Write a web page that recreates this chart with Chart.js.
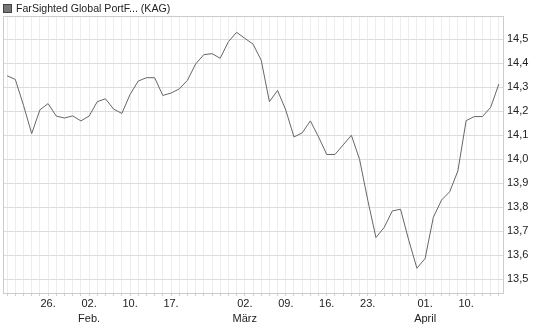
<!DOCTYPE html>
<html>
<head>
<meta charset="utf-8">
<script src="https://cdn.jsdelivr.net/npm/chart.js@4"></script>
<style>
  html, body { margin: 0; padding: 0; background: #fff; }
  #wrap { position: relative; width: 545px; height: 327px; }
  #legend {
    position: absolute; left: 3px; top: 2px;
    font: 10.6px "Liberation Sans", Arial, sans-serif; color: #222;
    display: flex; align-items: center; white-space: nowrap;
  }
  #legend .box {
    width: 7px; height: 7px; background: #777; border: 1px solid #444;
    margin-right: 4px;
  }
</style>
</head>
<body>
<div id="wrap">
  <canvas id="myChart" width="545" height="327"></canvas>
  <div id="legend"><span class="box"></span><span>FarSighted Global PortF... (KAG)</span></div>
</div>
<script>
// price series (one value per trading day)
const prices = [
  14.348, 14.333, 14.225, 14.107, 14.206, 14.232, 14.18, 14.172, 14.181, 14.16,
  14.18, 14.24, 14.252, 14.209, 14.191, 14.27, 14.326, 14.34, 14.34, 14.266,
  14.276, 14.293, 14.329, 14.397, 14.436, 14.44, 14.421, 14.49, 14.529, 14.504,
  14.48, 14.413, 14.24, 14.287, 14.205, 14.093, 14.11, 14.16, 14.093, 14.02,
  14.02, 14.06, 14.1, 14.0, 13.83, 13.674, 13.716, 13.785, 13.792, 13.663,
  13.546, 13.587, 13.758, 13.83, 13.865, 13.952, 14.161, 14.178, 14.178, 14.217,
  14.314
];

// which points get a date label
const tickIndex = [5, 10, 15, 20, 29, 34, 39, 44, 51, 56];
const tickLabels = [["26."], ["02.", "Feb."], ["10."], ["17."], ["02.", "März"],
  ["09."], ["16."], ["23."], ["01.", "April"], ["10."]];

const yTicks = [13.5, 13.6, 13.7, 13.8, 13.9, 14.0, 14.1, 14.2, 14.3, 14.4, 14.5];

const categories = prices.map((p, i) => i);
const font = { family: "'Liberation Sans', Arial, sans-serif", size: 11 };

// draws the left and top frame lines
const framePlugin = {
  id: "frame",
  afterDraw(chart) {
    const { ctx, chartArea } = chart;
    ctx.save();
    ctx.strokeStyle = "#ccc";
    ctx.lineWidth = 1;
    ctx.beginPath();
    ctx.moveTo(chartArea.left + 0.5, chartArea.bottom);
    ctx.lineTo(chartArea.left + 0.5, chartArea.top + 0.5);
    ctx.lineTo(chartArea.right, chartArea.top + 0.5);
    ctx.stroke();
    ctx.restore();
  },
};

new Chart(document.getElementById("myChart"), {
  type: "line",
  data: {
    labels: categories,
    datasets: [
      {
        label: "FarSighted Global PortF... (KAG)",
        data: prices,
        borderColor: "#666",
        borderWidth: 1,
        pointRadius: 0,
        tension: 0,
        fill: false,
      },
    ],
  },
  options: {
    responsive: false,
    animation: false,
    layout: { padding: { left: 3, top: 16, right: 0, bottom: 0 } },
    plugins: {
      legend: { display: false },
      tooltip: { enabled: false },
    },
    scales: {
      x: {
        type: "category",
        offset: true,
        grid: {
          offset: false,
          color: "#ededed",
          tickColor: "#d0d0d0",
          tickLength: 3,
        },
        border: { color: "#ccc" },
        ticks: {
          autoSkip: false,
          maxRotation: 0,
          padding: 1,
          color: "#222",
          font: { ...font, lineHeight: 1.35 },
          callback: (val, idx) => {
            const k = tickIndex.indexOf(idx);
            return k >= 0 ? tickLabels[k] : "";
          },
        },
        afterFit: (scale) => {
          scale.height = 34;
        },
      },
      y: {
        position: "right",
        min: 13.443,
        max: 14.597,
        grid: { color: "#dcdcdc", drawTicks: false },
        border: { color: "#ccc" },
        ticks: {
          padding: 4,
          color: "#222",
          font: font,
          callback: (v) => v.toFixed(1).replace(".", ","),
        },
        afterBuildTicks: (scale) => {
          scale.ticks = yTicks.map((v) => ({ value: v }));
        },
        afterFit: (scale) => {
          scale.width = 42;
        },
      },
    },
  },
  plugins: [framePlugin],
});
</script>
</body>
</html>
